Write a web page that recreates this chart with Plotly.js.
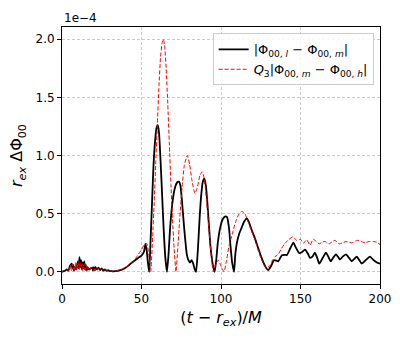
<!DOCTYPE html>
<html>
<head>
<meta charset="utf-8">
<script src="https://cdn.plot.ly/plotly-3.0.1.min.js"></script>
<style>
  html, body { margin: 0; padding: 0; background: #fff; }
  #chart { width: 407px; height: 339px; }
</style>
</head>
<body>
<div id="chart"></div>
<script>
// values in units of 1e-4
let tBlack = [0, 1, 2, 3, 4, 5, 6, 6.5, 7, 7.5, 8, 9, 10, 10.5, 11, 11.5, 12, 12.5, 13, 13.5, 14, 14.5, 15, 15.5, 16, 17, 18, 19, 19.5, 20, 20.5, 21, 22, 23, 24, 25, 26, 27, 28, 29, 30, 31, 32, 33, 34,
    36, 38, 40, 42, 44, 46, 48, 50, 51.5, 52.5, 53.3, 54, 54.8,
    55.5, 56.5, 57.5, 58.5, 59.5, 60.2, 61, 62, 63, 64, 65, 66, 67, 68, 69.5, 71, 72.5, 73.6, 74.5, 75.5, 77, 78.5, 79.5, 80.5, 81.5, 82.5, 83.5, 84.3,
    85.5, 86.5, 87.5, 88.5, 89.5, 90.5, 91.5, 92.5, 93.5, 95, 96, 97, 98, 99.5, 101, 102.5, 103.8, 105, 106, 107, 108.2,
    109, 110, 111.5, 113, 114.5, 116.2, 117.5, 119, 121, 123, 125, 127, 128.5, 129.7, 131.5, 133.3, 135, 136, 138.2, 140, 141.5, 143.5, 145.5,
    147, 149.2, 151, 152.8, 154.5, 156, 157.5, 159, 160.5, 161.8, 164, 166, 167.5, 169, 170.5, 172.3, 173.5, 174.8, 176.5, 178.6, 180.5, 182.2, 183.8, 185.3, 187, 188.5, 191, 193.7, 196, 198, 200];
let vBlack = [0, 0.005, 0.01, 0.02, 0.01, 0.05, 0.07, 0.03, 0.06, 0.01, 0.04, 0.02, 0.09, 0.03, 0.125, 0.04, 0.1, 0.02, 0.08, 0.03, 0.09, 0.02, 0.06, 0.01, 0.04, 0.02, 0.03, 0.035, 0.01, 0.04, 0.015, 0.04, 0.02, 0.035, 0.015, 0.03, 0.01, 0.02, 0.008, 0.015, 0.005, 0.008, 0.003, 0.005, 0.006,
    0.012, 0.02, 0.035, 0.055, 0.08, 0.1, 0.12, 0.14, 0.17, 0.24, 0.18, 0.08, 0.0,
    0.2, 0.55, 0.9, 1.12, 1.24, 1.26, 1.2, 0.95, 0.65, 0.35, 0.12, 0.0, 0.15, 0.38, 0.6, 0.72, 0.77, 0.775, 0.74, 0.6, 0.35, 0.15, 0.1, 0.08, 0.1, 0.07, 0.02, 0.0,
    0.2, 0.45, 0.65, 0.77, 0.8, 0.74, 0.58, 0.38, 0.2, 0.05, 0.0, 0.1, 0.25, 0.38, 0.45, 0.475, 0.47, 0.38, 0.22, 0.08, 0.0,
    0.15, 0.25, 0.33, 0.38, 0.43, 0.46, 0.43, 0.37, 0.3, 0.22, 0.14, 0.07, 0.03, 0.015, 0.05, 0.1, 0.095, 0.09, 0.14, 0.145, 0.145, 0.2, 0.25,
    0.21, 0.16, 0.17, 0.19, 0.16, 0.12, 0.13, 0.165, 0.12, 0.07, 0.12, 0.165, 0.13, 0.09, 0.12, 0.15, 0.13, 0.105, 0.13, 0.15, 0.12, 0.09, 0.11, 0.13, 0.1, 0.07, 0.1, 0.13, 0.1, 0.08, 0.07];

let tRed = [0, 1, 2, 3, 4, 4.5, 5, 5.5, 6, 6.5, 7, 7.5, 8, 8.5, 9, 9.5, 10, 10.5, 11, 11.5, 12, 12.5, 13, 13.5, 14, 14.5, 15, 15.5, 16, 16.5, 17, 18, 19, 20, 20.5, 21, 21.5, 22, 23, 24, 25, 26, 27, 28, 29, 30, 31, 32, 33, 34,
    36, 38, 40, 42, 44, 46, 48, 50, 52, 53.5, 54.5, 55.8,
    57, 58, 59, 60, 61, 62, 63, 63.7, 64.5, 65.5, 66.5, 67.5, 68.5, 69.5, 70.5, 71.7, 72.8, 74, 75.5, 77, 78.8, 80.3, 81.8, 83.6, 85, 86.8, 88.2,
    89.5, 91, 92.5, 94, 95.2, 96.5, 98.3, 100, 101.9, 103.5, 105, 107, 109, 111, 113, 115, 117, 119, 121, 123, 125, 127, 128.7, 130.5, 132, 134, 136, 138, 140, 142, 145.1,
    147.6, 150, 151.8, 153.9, 156, 158, 160, 161.8, 163.5, 165.4, 168.1, 170, 171.7, 174.4, 176.5, 178.6, 182.2, 185.7, 188, 190.6, 193, 195.8, 198, 200];
let vRed = [0, 0.01, 0.005, 0.02, 0.01, 0.04, 0.02, 0.06, 0.01, 0.07, 0.02, 0.05, 0.01, 0.08, 0.02, 0.07, 0.03, 0.09, 0.02, 0.08, 0.03, 0.07, 0.01, 0.06, 0.02, 0.07, 0.01, 0.05, 0.02, 0.04, 0.01, 0.03, 0.04, 0.01, 0.035, 0.01, 0.03, 0.015, 0.03, 0.01, 0.025, 0.008, 0.02, 0.006, 0.012, 0.004, 0.008, 0.003, 0.005, 0.007,
    0.015, 0.025, 0.04, 0.06, 0.08, 0.11, 0.15, 0.19, 0.24, 0.24, 0.15, 0.0,
    0.3, 0.6, 0.95, 1.28, 1.6, 1.85, 1.97, 2.0, 1.95, 1.75, 1.45, 1.1, 0.75, 0.45, 0.2, 0.0, 0.2, 0.45, 0.72, 0.92, 1.0, 0.92, 0.78, 0.675, 0.72, 0.83, 0.86,
    0.8, 0.6, 0.35, 0.12, 0.0, 0.06, 0.1, 0.05, 0.0, 0.1, 0.22, 0.32, 0.42, 0.49, 0.52, 0.5, 0.43, 0.36, 0.29, 0.2, 0.12, 0.06, 0.03, 0.05, 0.09, 0.13, 0.15, 0.2, 0.24, 0.27, 0.3,
    0.27, 0.28, 0.245, 0.275, 0.23, 0.28, 0.26, 0.24, 0.255, 0.26, 0.24, 0.26, 0.27, 0.24, 0.25, 0.26, 0.25, 0.27, 0.26, 0.25, 0.26, 0.26, 0.255, 0.235];

let xTicks = [0, 50, 100, 150, 200];
let yTicks = [0, 0.5, 1.0, 1.5, 2.0];

let traces = [
    {
        x: tBlack, y: vBlack,
        mode: 'lines',
        name: '|Φ<sub>00, <i>l</i></sub> − Φ<sub>00, <i>m</i></sub>|',
        line: {color: '#000000', width: 1.8, shape: 'spline', smoothing: 0.5}
    },
    {
        x: tRed, y: vRed,
        mode: 'lines',
        name: '<i>Q</i><sub>3</sub>|Φ<sub>00, <i>m</i></sub> − Φ<sub>00, <i>h</i></sub>|',
        line: {color: '#ff0000', width: 1, dash: '4px,2px', shape: 'spline', smoothing: 0.5}
    }
];

let layout = {
    width: 407,
    height: 339,
    margin: {l: 62, r: 27, t: 27, b: 55},
    paper_bgcolor: '#ffffff',
    plot_bgcolor: '#ffffff',
    font: {family: 'DejaVu Sans', size: 12, color: '#000'},
    showlegend: true,
    legend: {
        x: 0.98, y: 0.975, xanchor: 'right', yanchor: 'top',
        bgcolor: 'rgba(255,255,255,0.85)',
        bordercolor: '#cccccc', borderwidth: 1,
        font: {size: 13},
        tracegroupgap: 0
    },
    xaxis: {
        range: [0, 200],
        tickvals: xTicks,
        ticktext: xTicks.map(String),
        ticks: 'outside', ticklen: 4, tickcolor: '#000',
        showline: true, linecolor: '#000', linewidth: 1, mirror: true,
        showgrid: true, gridcolor: '#bdbdbd', griddash: '3px,2px', gridwidth: 0.8,
        zeroline: false,
        title: {text: '(<i>t</i> − <i>r<sub>ex</sub></i>)/<i>M</i>', font: {size: 16}, standoff: 6}
    },
    yaxis: {
        range: [-0.105, 2.105],
        tickvals: yTicks,
        ticktext: yTicks.map(v => v.toFixed(1)),
        ticks: 'outside', ticklen: 4, tickcolor: '#000',
        showline: true, linecolor: '#000', linewidth: 1, mirror: true,
        showgrid: true, gridcolor: '#bdbdbd', griddash: '3px,2px', gridwidth: 0.8,
        zeroline: false,
        title: {text: '<i>r<sub>ex</sub></i> ΔΦ<sub>00</sub>', font: {size: 16}, standoff: 8}
    },
    annotations: [{
        text: '1e−4', xref: 'paper', yref: 'paper', x: 0, y: 1,
        xanchor: 'left', yanchor: 'bottom', showarrow: false,
        font: {size: 12}
    }]
};

Plotly.newPlot('chart', traces, layout, {displayModeBar: false, staticPlot: true});
</script>
</body>
</html>
